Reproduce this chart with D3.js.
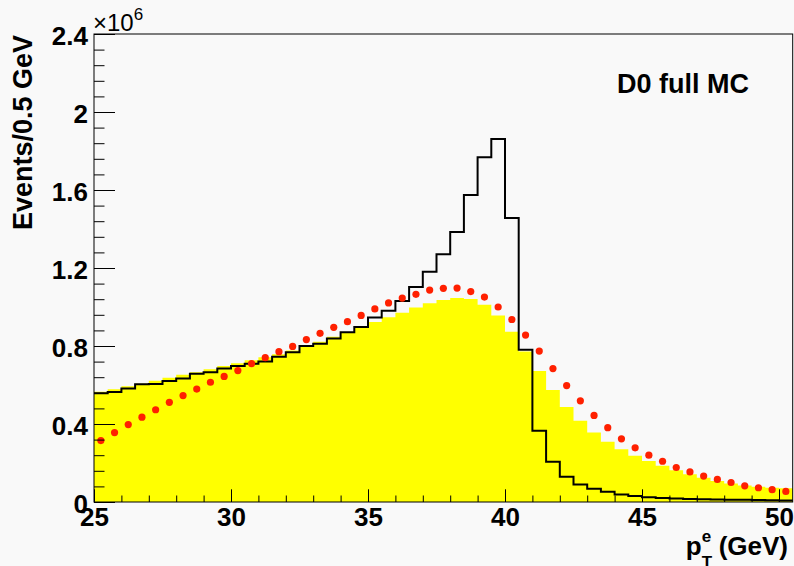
<!DOCTYPE html>
<html>
<head>
<meta charset="utf-8">
<script src="https://cdn.jsdelivr.net/npm/d3@7"></script>
<style>
  html, body { margin: 0; padding: 0; background: #f9f9f9; }
  svg { display: block; }
  text { font-family: "Liberation Sans", Arial, Helvetica, sans-serif; fill: #000; }
</style>
</head>
<body>
<svg id="chart" width="794" height="566"></svg>
<script>
// Electron transverse momentum, 0.5 GeV bins from 25 to 50.5 GeV.
// All yields are in units of 10^6 events.
const binLow = 25.0;
const binWidth = 0.5;

// Generator-level spectrum (black outline)
const generated = [
  0.558, 0.564, 0.582, 0.604, 0.605, 0.621, 0.633, 0.658, 0.665, 0.685,
  0.697, 0.709, 0.720, 0.745, 0.768, 0.800, 0.812, 0.839, 0.870, 0.897,
  0.946, 0.981, 1.031, 1.102, 1.181, 1.271, 1.385, 1.574, 1.768, 1.861,
  1.457, 0.781, 0.365, 0.207, 0.129, 0.090, 0.068, 0.052, 0.038, 0.031,
  0.025, 0.021, 0.018, 0.016, 0.014, 0.013, 0.012, 0.011, 0.010, 0.009,
  0.008
];

// Full detector simulation (yellow filled histogram)
const fullSim = [
  0.566, 0.578, 0.593, 0.607, 0.622, 0.637, 0.652, 0.666, 0.681, 0.697,
  0.712, 0.727, 0.742, 0.758, 0.777, 0.800, 0.822, 0.847, 0.872, 0.898,
  0.923, 0.947, 0.971, 0.997, 1.019, 1.036, 1.046, 1.041, 1.012, 0.956,
  0.873, 0.772, 0.672, 0.574, 0.487, 0.417, 0.356, 0.309, 0.270, 0.237,
  0.210, 0.186, 0.163, 0.142, 0.124, 0.108, 0.095, 0.085, 0.078, 0.073,
  0.070
];

// Parametrised simulation (red markers)
const paramSim = [
  0.315, 0.356, 0.397, 0.435, 0.473, 0.511, 0.546, 0.579, 0.614, 0.644,
  0.674, 0.710, 0.740, 0.771, 0.798, 0.833, 0.865, 0.896, 0.925, 0.957,
  0.990, 1.021, 1.046, 1.065, 1.087, 1.096, 1.097, 1.079, 1.051, 1.000,
  0.936, 0.856, 0.774, 0.684, 0.597, 0.519, 0.444, 0.381, 0.324, 0.278,
  0.240, 0.209, 0.177, 0.154, 0.133, 0.116, 0.100, 0.083, 0.073, 0.063,
  0.054
];

const xMajorTicks = [25, 30, 35, 40, 45, 50];
const xMinorTicks = d3.range(25, 51, 1);
const yMajorTicks = [0, 0.4, 0.8, 1.2, 1.6, 2.0, 2.4];
const yMinorTicks = d3.range(0, 2.41, 0.08);
const yTickLabels = ["0", "0.4", "0.8", "1.2", "1.6", "2", "2.4"];
const xTickLabels = ["25", "30", "35", "40", "45", "50"];

const frame = { left: 94, right: 792.7, top: 34, bottom: 502 };
const nBins = generated.length;
const binHigh = binLow + nBins * binWidth;

const svg = d3.select("#chart");
svg.append("rect").attr("width", 794).attr("height", 566).attr("fill", "#f9f9f9");

const x = d3.scaleLinear().domain([binLow, binHigh]).range([frame.left, frame.right]);
const y = d3.scaleLinear().domain([0, 2.4]).range([frame.bottom, frame.top]);

const edge = i => binLow + i * binWidth;
const stepPoints = vals => vals.map((v, i) => [edge(i), v]).concat([[binHigh, vals[vals.length - 1]]]);

// Yellow filled histogram
const area = d3.area()
  .curve(d3.curveStepAfter)
  .x(d => x(d[0]))
  .y0(y(0))
  .y1(d => y(d[1]));
svg.append("path")
  .datum(stepPoints(fullSim))
  .attr("d", area)
  .attr("fill", "#ffff00")
  .attr("stroke", "none");

// Black outline histogram
const line = d3.line()
  .curve(d3.curveStepAfter)
  .x(d => x(d[0]))
  .y(d => y(d[1]));
svg.append("path")
  .datum(stepPoints(generated))
  .attr("d", line)
  .attr("fill", "none")
  .attr("stroke", "#000")
  .attr("stroke-width", 2);

// Red markers at bin centres
svg.append("g").selectAll("circle")
  .data(paramSim)
  .join("circle")
  .attr("cx", (d, i) => x(edge(i) + binWidth / 2))
  .attr("cy", d => y(d))
  .attr("r", 3.6)
  .attr("fill", "#ff2000");

// Axes: ticks point into the frame
const fontTick = 26;
const yMinor = svg.append("g").attr("transform", `translate(${frame.left},0)`)
  .call(d3.axisLeft(y).tickValues(yMinorTicks).tickSize(-10.5).tickFormat(""));
const yMajor = svg.append("g").attr("transform", `translate(${frame.left},0)`)
  .call(d3.axisLeft(y).tickValues(yMajorTicks).tickSize(-21).tickPadding(6)
    .tickFormat((d, i) => yTickLabels[i]));
const xMinor = svg.append("g").attr("transform", `translate(0,${frame.bottom})`)
  .call(d3.axisBottom(x).tickValues(xMinorTicks).tickSize(-6.5).tickFormat(""));
const xMajor = svg.append("g").attr("transform", `translate(0,${frame.bottom})`)
  .call(d3.axisBottom(x).tickValues(xMajorTicks).tickSize(-12.7).tickPadding(6)
    .tickFormat((d, i) => xTickLabels[i]));

[yMinor, yMajor, xMinor, xMajor].forEach(g => {
  g.select(".domain").remove();
  g.selectAll(".tick line").attr("stroke", "#000").attr("stroke-width", 1);
  g.selectAll("text")
    .attr("font-size", fontTick)
    .attr("font-weight", "bold")
    .attr("font-family", "Liberation Sans, Arial, Helvetica, sans-serif")
    .attr("fill", "#000");
});
yMajor.selectAll("text").attr("dy", "0.40em");

// Frame
svg.append("rect")
  .attr("x", frame.left).attr("y", frame.top)
  .attr("width", frame.right - frame.left).attr("height", frame.bottom - frame.top)
  .attr("fill", "none").attr("stroke", "#000").attr("stroke-width", 1);

// Exponent of the y axis
const expo = svg.append("text").attr("x", 93).attr("y", 31)
  .attr("font-size", 24).attr("font-weight", "normal");
expo.append("tspan").text("\u00d710");
expo.append("tspan").text("6").attr("font-size", 17).attr("dy", -11);

// Axis titles
svg.append("text")
  .attr("transform", `translate(32,35) rotate(-90)`)
  .attr("text-anchor", "end")
  .attr("font-size", 27)
  .attr("font-weight", "bold")
  .text("Events/0.5 GeV");

const xt = svg.append("g").attr("font-weight", "bold");
const unit = xt.append("text").attr("x", 788).attr("y", 555)
  .attr("text-anchor", "end").attr("font-size", 26).attr("font-weight", "bold").text("(GeV)");
const unitStart = 788 - unit.node().getComputedTextLength();
const scriptX = unitStart - 17;
xt.append("text").attr("x", scriptX).attr("y", 542)
  .attr("font-size", 17).attr("font-weight", "bold").text("e");
xt.append("text").attr("x", scriptX).attr("y", 568)
  .attr("font-size", 17).attr("font-weight", "bold").text("T");
xt.append("text").attr("x", scriptX - 16).attr("y", 555)
  .attr("text-anchor", "start").attr("font-size", 26).attr("font-weight", "bold").text("p");

// Sample label
svg.append("text")
  .attr("x", 617).attr("y", 93)
  .attr("font-size", 27).attr("font-weight", "bold")
  .text("D0 full MC");
</script>
</body>
</html>
